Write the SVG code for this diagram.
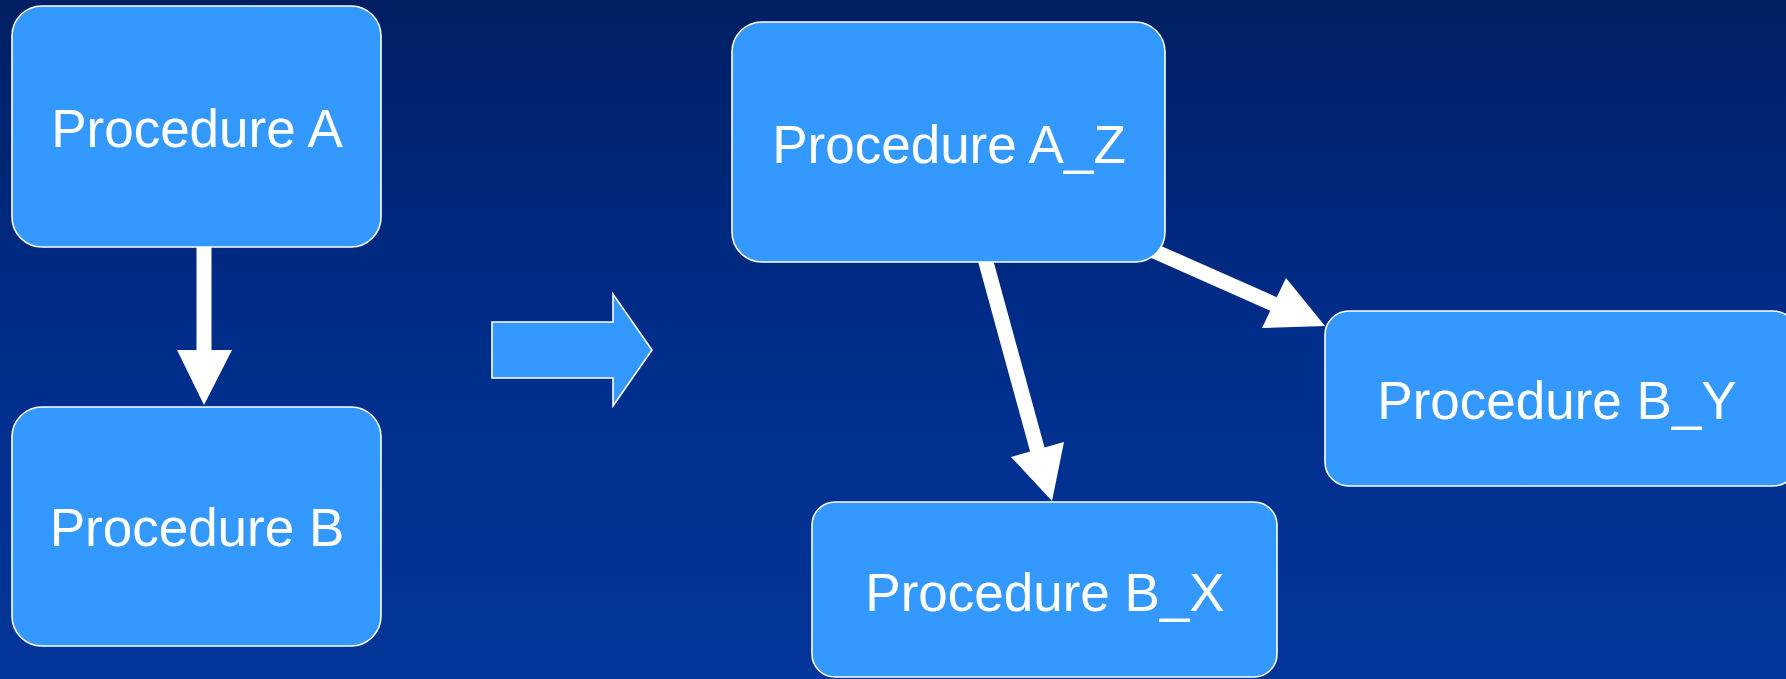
<svg xmlns="http://www.w3.org/2000/svg" width="1786" height="679" viewBox="0 0 1786 679">
  <defs>
    <linearGradient id="bg" x1="0" y1="0" x2="0" y2="1">
      <stop offset="0" stop-color="#001f63"/>
      <stop offset="0.5" stop-color="#002d8a"/>
      <stop offset="1" stop-color="#033699"/>
    </linearGradient>
    <style>
      .box { fill: #3399ff; stroke: #ffffff; stroke-width: 1.6; }
      .lbl { fill: #ffffff; font-family: "Liberation Sans", Arial, sans-serif; font-size: 53px; text-anchor: middle; }
      .shaft { stroke: #ffffff; stroke-width: 15; fill: none; }
      .head { fill: #ffffff; stroke: none; }
      .bigarrow { fill: #3399ff; stroke: #ffffff; stroke-width: 1.6; stroke-linejoin: miter; }
    </style>
  </defs>
  <rect x="0" y="0" width="1786" height="679" fill="url(#bg)"/>

  <g id="connectors">
    <line class="shaft" x1="204" y1="246" x2="204" y2="352"/>
    <polygon class="head" points="177,350 232,350 204,405"/>
    <line class="shaft" x1="984" y1="255" x2="1038" y2="452"/>
    <polygon class="head" points="1011,457 1064,442 1052,501"/>
    <line class="shaft" x1="1145" y1="247" x2="1276" y2="305"/>
    <polygon class="head" points="1286,278 1262,328 1325,326"/>
  </g>

  <g id="transform-arrow">
    <polygon class="bigarrow" points="492,322 613,322 613,294 652,350 613,406 613,378 492,378"/>
  </g>

  <g id="node-a">
    <rect class="box" x="12" y="6" width="369" height="241" rx="30" ry="30"/>
    <text class="lbl" x="197" y="147">Procedure A</text>
  </g>
  <g id="node-b">
    <rect class="box" x="12" y="407" width="369" height="239" rx="30" ry="30"/>
    <text class="lbl" x="197" y="546">Procedure B</text>
  </g>
  <g id="node-az">
    <rect class="box" x="732" y="22" width="433" height="240" rx="30" ry="30"/>
    <text class="lbl" x="949" y="163">Procedure A_Z</text>
  </g>
  <g id="node-by">
    <rect class="box" x="1325" y="311" width="472" height="175" rx="24" ry="24"/>
    <text class="lbl" x="1557" y="419">Procedure B_Y</text>
  </g>
  <g id="node-bx">
    <rect class="box" x="812" y="502" width="465" height="175" rx="23" ry="23"/>
    <text class="lbl" x="1045" y="611">Procedure B_X</text>
  </g>
</svg>
